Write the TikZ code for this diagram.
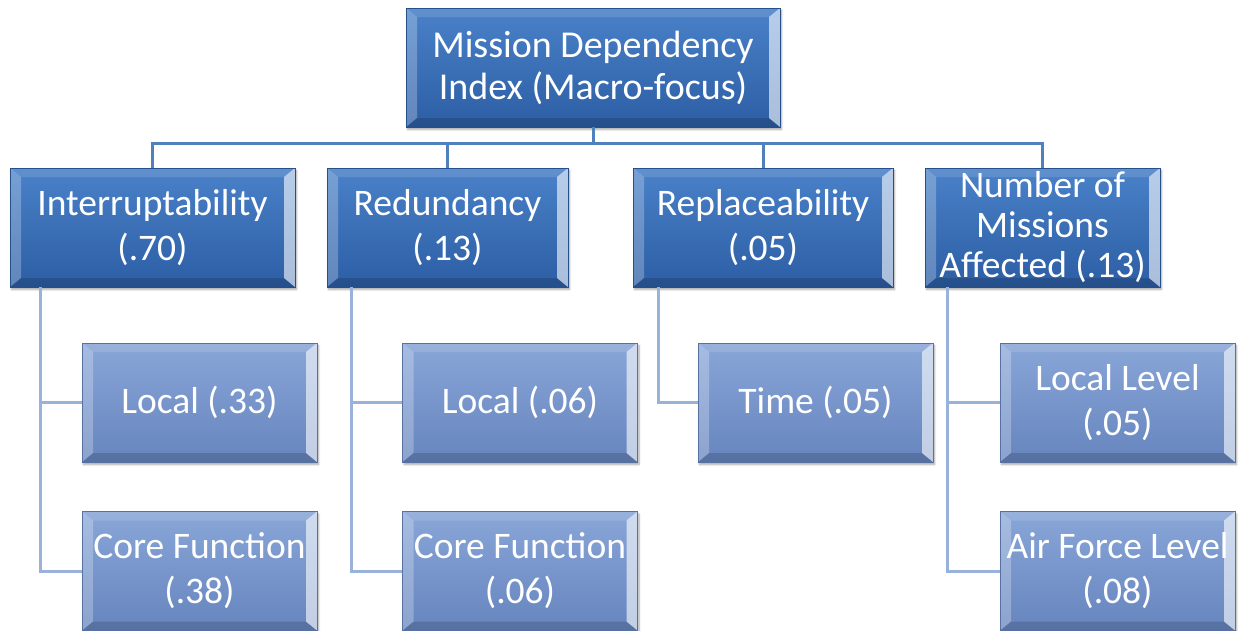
\documentclass[tikz,border=0pt]{standalone}
\usepackage{fontspec}
\setmainfont{Carlito}
\usetikzlibrary{shadows.blur}

\definecolor{lvlonetop}{RGB}{74,129,200}
\definecolor{lvlonebot}{RGB}{44,94,164}
\definecolor{lvltwotop}{RGB}{137,166,216}
\definecolor{lvltwobot}{RGB}{102,133,190}
\definecolor{lineone}{RGB}{79,129,189}
\definecolor{linetwo}{RGB}{152,178,218}

\tikzset{
	bevel/.style={path picture={
		% top, bottom, left and right edges of the bevel
		\fill[white,opacity=.12] (path picture bounding box.north west) -- (path picture bounding box.north east)
			-- ([xshift=-11pt,yshift=-9pt]path picture bounding box.north east) -- ([xshift=11pt,yshift=-9pt]path picture bounding box.north west) -- cycle;
		\fill[black,opacity=.15] (path picture bounding box.south west) -- (path picture bounding box.south east)
			-- ([xshift=-11pt,yshift=9pt]path picture bounding box.south east) -- ([xshift=11pt,yshift=9pt]path picture bounding box.south west) -- cycle;
		\fill[white,opacity=.25] (path picture bounding box.north west) -- (path picture bounding box.south west)
			-- ([xshift=11pt,yshift=9pt]path picture bounding box.south west) -- ([xshift=11pt,yshift=-9pt]path picture bounding box.north west) -- cycle;
		\fill[white,opacity=.6] (path picture bounding box.north east) -- (path picture bounding box.south east)
			-- ([xshift=-11pt,yshift=9pt]path picture bounding box.south east) -- ([xshift=-11pt,yshift=-9pt]path picture bounding box.north east) -- cycle;
	}},
	box/.style={rectangle,bevel,inner sep=0pt,minimum height=119pt,align=center,text=white,
		font=\fontsize{37.5}{45}\selectfont,
		blur shadow={shadow xshift=1.5pt,shadow yshift=-2.5pt,shadow blur steps=6,shadow opacity=35}},
	lvlone/.style={box,top color=lvlonetop,bottom color=lvlonebot,draw=lvlonebot!85!black,line width=.6pt},
	lvltwo/.style={box,top color=lvltwotop,bottom color=lvltwobot,draw=lvltwobot!85!black,line width=.6pt,minimum width=235pt},
}

\begin{document}
\begin{tikzpicture}[x=1pt,y=-1pt]
	\useasboundingbox (0,0) rectangle (1239,630);

	\begin{scope}[every node/.style={lvlone}]
		\node[minimum width=374pt,font=\fontsize{38}{42}\selectfont] (mdi) at (593,67.5) {Mission Dependency\\Index (Macro-focus)};
		\node[minimum width=285pt] (intr) at (152.5,227.5) {Interruptability\\(.70)};
		\node[minimum width=241pt] (redu) at (447.5,227.5) {Redundancy\\(.13)};
		\node[minimum width=260pt] (repl) at (763,227.5) {Replaceability\\(.05)};
		\node[minimum width=235pt,font=\fontsize{37.5}{40}\selectfont] (nmis) at (1042.5,227.5) {Number of\\Missions\\Affected (.13)};
	\end{scope}

	\begin{scope}[every node/.style={lvltwo}]
		\node (intrloc) at (199.5,402.5) {Local (.33)};
		\node (intrcore) at (199.5,571) {Core Function\\(.38)};
		\node (reduloc) at (520,402.5) {Local (.06)};
		\node (reducore) at (520,571) {Core Function\\(.06)};
		\node (repltime) at (815.5,402.5) {Time (.05)};
		\node (nmisloc) at (1117.5,402.5) {Local Level\\(.05)};
		\node (nmisaf) at (1117.5,571) {Air Force Level\\(.08)};
	\end{scope}

	% connectors
	\coordinate (bus) at (593,143);
	\coordinate (intrline) at ([xshift=31pt]intr.south west);
	\coordinate (reduline) at ([xshift=25pt]redu.south west);
	\coordinate (replline) at ([xshift=26pt]repl.south west);
	\coordinate (nmisline) at ([xshift=23pt]nmis.south west);

	\begin{scope}[line width=3pt]
		\draw[lineone] (mdi.south) -- (bus);
		\draw[lineone] (intr.north) |- (bus);
		\draw[lineone] (redu.north) |- (bus);
		\draw[lineone] (repl.north) |- (bus);
		\draw[lineone] (nmis.north) |- (bus);

		\draw[linetwo] (intrline) |- (intrloc.west);
		\draw[linetwo] (intrline) |- (intrcore.west);
		\draw[linetwo] (reduline) |- (reduloc.west);
		\draw[linetwo] (reduline) |- (reducore.west);
		\draw[linetwo] (replline) |- (repltime.west);
		\draw[linetwo] (nmisline) |- (nmisloc.west);
		\draw[linetwo] (nmisline) |- (nmisaf.west);
	\end{scope}
\end{tikzpicture}
\end{document}
